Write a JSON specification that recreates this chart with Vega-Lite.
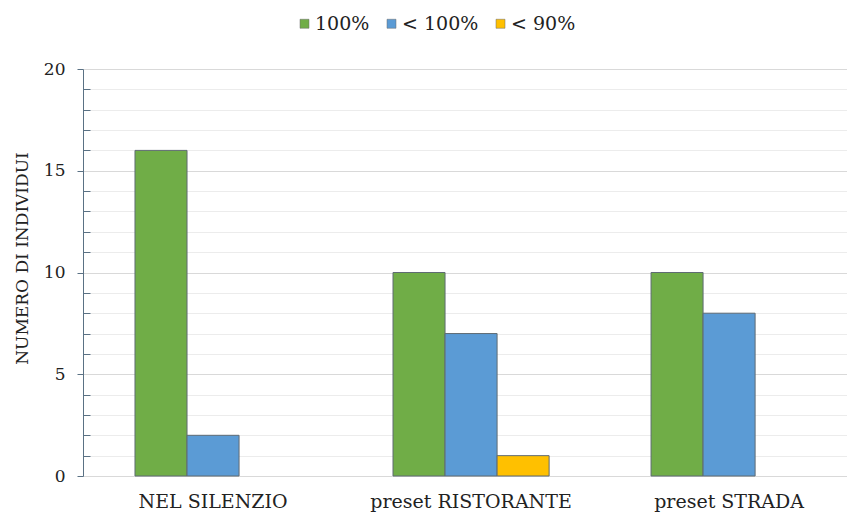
{
  "$schema": "https://vega.github.io/schema/vega-lite/v6.json",
  "width": 764,
  "height": 407,
  "autosize": {"type": "none"},
  "padding": {"left": 83, "top": 69, "right": 0, "bottom": 36},
  "background": "white",
  "config": {"view": {"stroke": null}, "font": "DejaVu Serif"},
  "data": {
    "values": [
      {"condizione": "NEL SILENZIO", "esito": "100%", "individui": 16},
      {"condizione": "NEL SILENZIO", "esito": "< 100%", "individui": 2},
      {"condizione": "preset RISTORANTE", "esito": "100%", "individui": 10},
      {"condizione": "preset RISTORANTE", "esito": "< 100%", "individui": 7},
      {"condizione": "preset RISTORANTE", "esito": "< 90%", "individui": 1},
      {"condizione": "preset STRADA", "esito": "100%", "individui": 10},
      {"condizione": "preset STRADA", "esito": "< 100%", "individui": 8}
    ]
  },
  "mark": {"type": "bar", "stroke": "#5f6b73", "strokeWidth": 1},
  "encoding": {
    "x": {
      "field": "condizione",
      "type": "nominal",
      "sort": null,
      "scale": {"paddingInner": 0.395, "paddingOuter": 0.178, "align": 0.566},
      "axis": {
        "title": null,
        "labelAngle": 0,
        "ticks": false,
        "tickSize": 0,
        "domainColor": "#d9d9d9",
        "labelFont": "DejaVu Serif",
        "labelFontSize": 19,
        "labelLimit": 300,
        "labelColor": "#222222",
        "labelPadding": 16,
        "labelBaseline": "top"
      }
    },
    "xOffset": {
      "field": "esito",
      "type": "nominal",
      "scale": {"domain": ["100%", "< 100%", "< 90%"], "paddingInner": 0, "paddingOuter": 0}
    },
    "y": {
      "field": "individui",
      "type": "quantitative",
      "scale": {"domain": [0, 20], "nice": false},
      "axis": {
        "values": [0, 1, 2, 3, 4, 5, 6, 7, 8, 9, 10, 11, 12, 13, 14, 15, 16, 17, 18, 19, 20],
        "labelExpr": "datum.value % 5 === 0 ? datum.label : ''",
        "gridColor": {"condition": {"test": "datum.value % 5 === 0", "value": "#d9d9d9"}, "value": "#ececec"},
        "tickSize": {"condition": {"test": "datum.value % 5 === 0", "value": 6}, "value": -7},
        "tickColor": "#5a7184",
        "domainColor": "#5a7184",
        "labelFont": "DejaVu Serif",
        "labelFontSize": 17,
        "labelColor": "#222222",
        "labelPadding": 12,
        "title": "NUMERO DI INDIVIDUI",
        "titleFont": "DejaVu Serif",
        "titleFontSize": 17,
        "titleFontWeight": "normal",
        "titleColor": "#222222",
        "titleX": -61,
        "titleY": 189,
        "titleAngle": -90,
        "titleAlign": "center",
        "titleBaseline": "middle"
      }
    },
    "color": {
      "field": "esito",
      "type": "nominal",
      "scale": {"domain": ["100%", "< 100%", "< 90%"], "range": ["#70AD47", "#5B9BD5", "#FFC000"]},
      "legend": {
        "title": null,
        "orient": "none",
        "legendX": 212,
        "legendY": -55,
        "direction": "horizontal",
        "symbolType": "square",
        "symbolSize": 81,
        "symbolStrokeColor": "#6b6b6b",
        "symbolStrokeWidth": 0.5,
        "labelFont": "DejaVu Serif",
        "labelFontSize": 19,
        "labelColor": "#222222",
        "labelOffset": 1,
        "columnPadding": 12
      }
    }
  }
}
